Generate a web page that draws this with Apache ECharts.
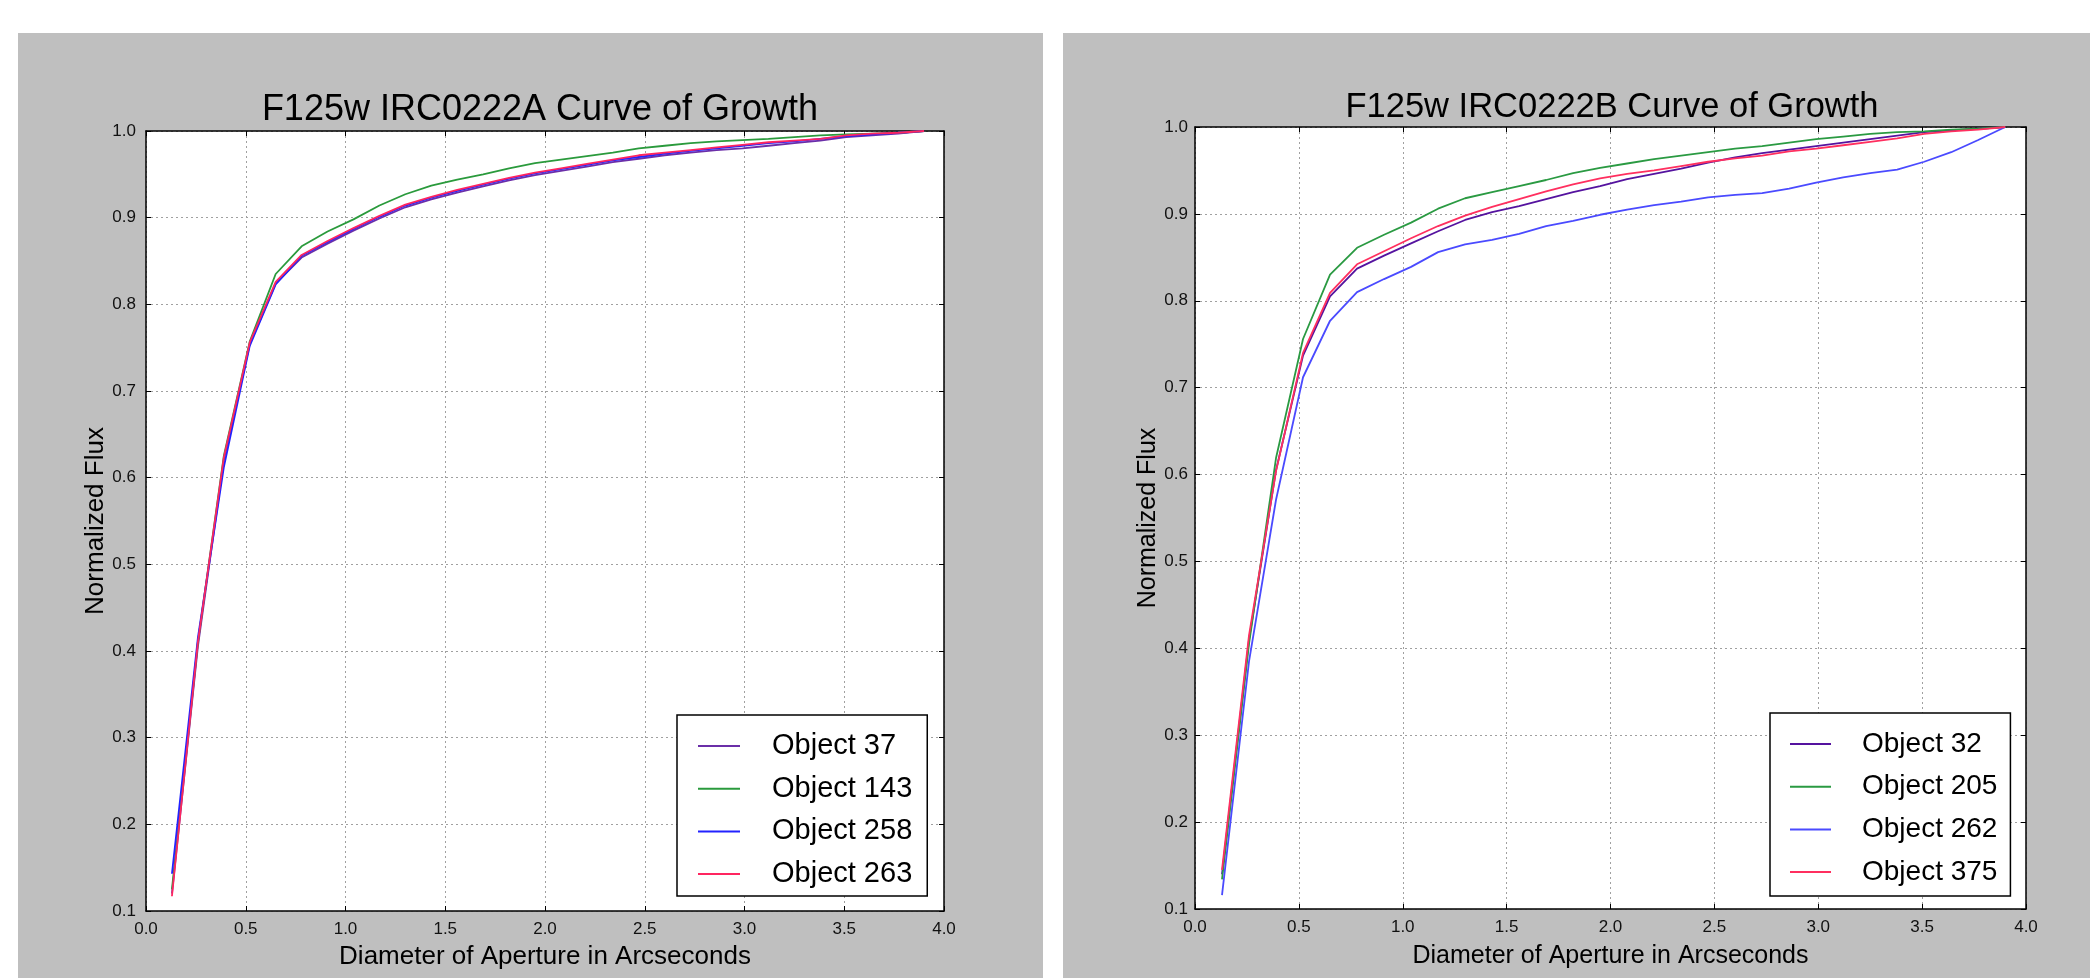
<!DOCTYPE html>
<html>
<head>
<meta charset="utf-8">
<script src="https://cdn.jsdelivr.net/npm/echarts@6/dist/echarts.min.js"></script>
<style>
  html, body { margin: 0; padding: 0; background: #ffffff; }
  #wrap { position: relative; width: 2090px; height: 978px; }
  .panel { position: absolute; background: #bfbfbf; }
  #chart { position: absolute; left: 0; top: 0; width: 2090px; height: 978px; }
</style>
</head>
<body>
<div id="wrap">
  <div class="panel" style="left:18px;top:33px;width:1025px;height:945px;"></div>
  <div class="panel" style="left:1063px;top:33px;width:1027px;height:945px;"></div>
  <div id="chart"></div>
</div>
<script>
// Aperture diameters (arcsec)
const apertures = [0.13, 0.26, 0.39, 0.52, 0.65, 0.78, 0.91, 1.04, 1.17, 1.30,
                   1.43, 1.56, 1.69, 1.82, 1.95, 2.08, 2.21, 2.34, 2.47, 2.60,
                   2.73, 2.86, 2.99, 3.12, 3.25, 3.38, 3.51, 3.64, 3.77, 3.90];

// Panel A: F125w IRC0222A
const titleA = 'F125w IRC0222A Curve of Growth';
const namesA = ['Object 37', 'Object 143', 'Object 258', 'Object 263'];
const obj37  = [0.120, 0.405, 0.620, 0.754, 0.824, 0.854, 0.870, 0.885, 0.899, 0.912,
                0.921, 0.929, 0.936, 0.943, 0.949, 0.954, 0.959, 0.964, 0.968, 0.972,
                0.975, 0.978, 0.980, 0.983, 0.986, 0.989, 0.993, 0.995, 0.997, 1.000];
const obj143 = [0.125, 0.410, 0.625, 0.757, 0.835, 0.867, 0.884, 0.898, 0.914, 0.927,
                0.937, 0.944, 0.950, 0.957, 0.963, 0.967, 0.971, 0.975, 0.980, 0.983,
                0.986, 0.988, 0.9895, 0.991, 0.993, 0.995, 0.996, 0.997, 0.998, 1.000];
const obj258 = [0.143, 0.415, 0.612, 0.752, 0.823, 0.856, 0.872, 0.887, 0.901, 0.914,
                0.923, 0.931, 0.938, 0.945, 0.951, 0.956, 0.961, 0.966, 0.970, 0.974,
                0.977, 0.980, 0.983, 0.986, 0.988, 0.991, 0.994, 0.996, 0.998, 1.000];
const obj263 = [0.117, 0.410, 0.623, 0.756, 0.826, 0.857, 0.873, 0.888, 0.902, 0.915,
                0.924, 0.932, 0.939, 0.946, 0.952, 0.957, 0.962, 0.967, 0.972, 0.975,
                0.978, 0.981, 0.984, 0.987, 0.989, 0.991, 0.995, 0.997, 0.998, 1.000];

// Panel B: F125w IRC0222B
const titleB = 'F125w IRC0222B Curve of Growth';
const namesB = ['Object 32', 'Object 205', 'Object 262', 'Object 375'];
const obj32  = [0.140, 0.410, 0.605, 0.737, 0.805, 0.837, 0.852, 0.866, 0.880, 0.893,
                0.902, 0.909, 0.917, 0.925, 0.932, 0.940, 0.946, 0.952, 0.959, 0.965,
                0.970, 0.974, 0.978, 0.982, 0.986, 0.990, 0.994, 0.996, 0.998, 1.000];
const obj205 = [0.134, 0.405, 0.619, 0.756, 0.830, 0.861, 0.876, 0.890, 0.906, 0.918,
                0.925, 0.932, 0.939, 0.947, 0.953, 0.958, 0.963, 0.967, 0.971, 0.975,
                0.978, 0.982, 0.986, 0.989, 0.992, 0.994, 0.995, 0.997, 0.998, 1.000];
const obj262 = [0.116, 0.385, 0.571, 0.712, 0.777, 0.810, 0.825, 0.839, 0.856, 0.865,
                0.870, 0.877, 0.886, 0.892, 0.899, 0.905, 0.910, 0.914, 0.919, 0.922,
                0.924, 0.929, 0.936, 0.942, 0.947, 0.951, 0.960, 0.971, 0.985, 1.000];
const obj375 = [0.145, 0.415, 0.604, 0.740, 0.809, 0.842, 0.857, 0.872, 0.886, 0.898,
                0.908, 0.917, 0.926, 0.934, 0.941, 0.946, 0.950, 0.955, 0.960, 0.964,
                0.967, 0.972, 0.975, 0.979, 0.983, 0.987, 0.992, 0.995, 0.997, 1.000];

const xAxisName = 'Diameter of Aperture in Arcseconds';
const yAxisName = 'Normalized Flux';

const colorsA = ['#6b2fa8', '#2a9a3c', '#2222ff', '#ff2560'];
const colorsB = ['#55139f', '#2a9a42', '#4a4aff', '#ff2f5f'];

const FONT = '"Liberation Sans", Arial, Helvetica, sans-serif';

function pairs(vals) { return apertures.map((x, i) => [x, vals[i]]); }

function xAxes(gi, nameGap, fs) {
  return [
    {
      gridIndex: gi, type: 'value', position: 'bottom', min: 0, max: 4, interval: 0.5,
      name: xAxisName, nameLocation: 'middle', nameGap: nameGap,
      nameTextStyle: { fontFamily: FONT, fontSize: fs, color: '#000' },
      axisLine: { show: true, onZero: false, lineStyle: { color: '#000', width: 1.5 } },
      axisTick: { show: true, inside: true, length: 5, lineStyle: { color: '#000' } },
      axisLabel: { fontFamily: FONT, fontSize: 17, color: '#111', margin: 10,
                   formatter: v => v.toFixed(1) },
      splitLine: { show: true, lineStyle: { color: '#a0a0a0', type: [2, 3], width: 1 } }
    },
    {
      gridIndex: gi, type: 'value', position: 'top', min: 0, max: 4, interval: 0.5,
      axisLine: { show: true, onZero: false, lineStyle: { color: '#000', width: 1.5 } },
      axisTick: { show: true, inside: true, length: 5, lineStyle: { color: '#000' } },
      axisLabel: { show: false }, splitLine: { show: false }
    }
  ];
}

function yAxes(gi, nameGap, labelMargin, fs) {
  return [
    {
      gridIndex: gi, type: 'value', position: 'left', min: 0.1, max: 1.0, interval: 0.1,
      name: yAxisName, nameLocation: 'middle', nameGap: nameGap,
      nameTextStyle: { fontFamily: FONT, fontSize: fs, color: '#000' },
      axisLine: { show: true, onZero: false, lineStyle: { color: '#000', width: 1.5 } },
      axisTick: { show: true, inside: true, length: 5, lineStyle: { color: '#000' } },
      axisLabel: { fontFamily: FONT, fontSize: 17, color: '#111', margin: labelMargin,
                   padding: [7, 0, 0, 0], formatter: v => v.toFixed(1) },
      splitLine: { show: true, lineStyle: { color: '#a0a0a0', type: [2, 3], width: 1 } }
    },
    {
      gridIndex: gi, type: 'value', position: 'right', min: 0.1, max: 1.0, interval: 0.1,
      axisLine: { show: true, onZero: false, lineStyle: { color: '#000', width: 1.5 } },
      axisTick: { show: true, inside: true, length: 5, lineStyle: { color: '#000' } },
      axisLabel: { show: false }, splitLine: { show: false }
    }
  ];
}

function lineSeries(name, vals, color, xi, yi) {
  return {
    name: name, type: 'line', xAxisIndex: xi, yAxisIndex: yi,
    data: pairs(vals), showSymbol: false, symbol: 'none',
    lineStyle: { color: color, width: 1.8 }, itemStyle: { color: color },
    animation: false
  };
}

const chart = echarts.init(document.getElementById('chart'), null, { renderer: 'canvas' });

const option = {
  animation: false,
  backgroundColor: 'transparent',
  title: [
    { text: titleA, left: 535, top: 87, textAlign: 'center',
      textStyle: { fontFamily: FONT, fontSize: 36, fontWeight: 'normal', color: '#000', lineHeight: 36 } },
    { text: titleB, left: 1607, top: 84, textAlign: 'center',
      textStyle: { fontFamily: FONT, fontSize: 34.5, fontWeight: 'normal', color: '#000', lineHeight: 36 } }
  ],
  grid: [
    { left: 146, top: 131, width: 798, height: 780, show: true, backgroundColor: '#ffffff', borderWidth: 0 },
    { left: 1195, top: 127, width: 831, height: 782, show: true, backgroundColor: '#ffffff', borderWidth: 0 }
  ],
  xAxis: [].concat(xAxes(0, 33, 26), xAxes(1, 35, 25)),
  yAxis: [].concat(yAxes(0, 31, 10, 26), yAxes(1, 31, 7, 25)),
  legend: [
    {
      data: namesA, orient: 'vertical', left: 677, top: 715,
      backgroundColor: '#ffffff', borderColor: '#000', borderWidth: 1.5, borderRadius: 0,
      padding: [16, 15, 7, 21], itemGap: 12.7, itemWidth: 42, itemHeight: 2, icon: 'rect',
      textStyle: { fontFamily: FONT, fontSize: 29, color: '#000', lineHeight: 30, padding: [0, 0, 0, 27] },
      selectedMode: false
    },
    {
      data: namesB, orient: 'vertical', left: 1770, top: 713,
      backgroundColor: '#ffffff', borderColor: '#000', borderWidth: 1.5, borderRadius: 0,
      padding: [16, 13, 9, 20], itemGap: 12.7, itemWidth: 41, itemHeight: 2, icon: 'rect',
      textStyle: { fontFamily: FONT, fontSize: 28, color: '#000', lineHeight: 30, padding: [0, 0, 0, 26] },
      selectedMode: false
    }
  ],
  series: [
    lineSeries(namesA[0], obj37,  colorsA[0], 0, 0),
    lineSeries(namesA[1], obj143, colorsA[1], 0, 0),
    lineSeries(namesA[2], obj258, colorsA[2], 0, 0),
    lineSeries(namesA[3], obj263, colorsA[3], 0, 0),
    lineSeries(namesB[0], obj32,  colorsB[0], 2, 2),
    lineSeries(namesB[1], obj205, colorsB[1], 2, 2),
    lineSeries(namesB[2], obj262, colorsB[2], 2, 2),
    lineSeries(namesB[3], obj375, colorsB[3], 2, 2)
  ]
};
chart.setOption(option);
</script>
</body>
</html>
